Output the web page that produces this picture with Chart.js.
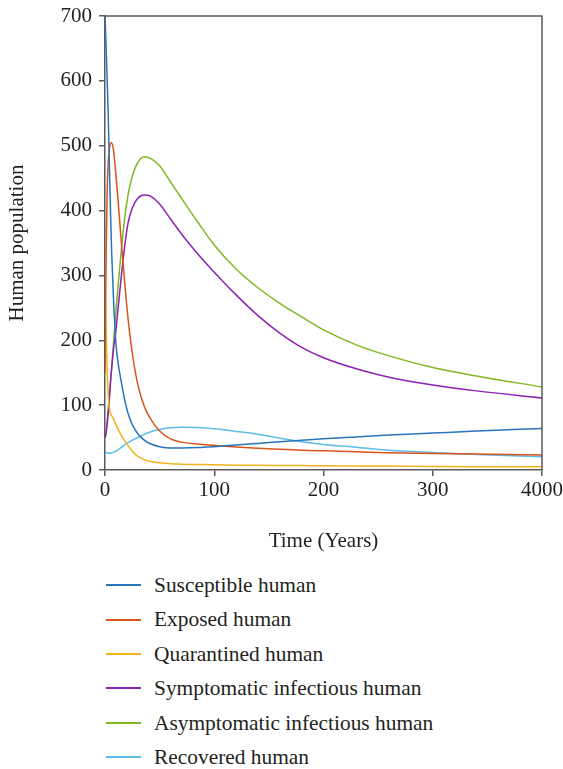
<!DOCTYPE html>
<html>
<head>
<meta charset="utf-8">
<title>Human population</title>
<script src="https://cdn.jsdelivr.net/npm/chart.js@4.4.1/dist/chart.umd.min.js"></script>
<style>
  html, body { margin: 0; padding: 0; background: #fff; }
  #wrap { position: relative; width: 563px; height: 769px; }
  #chart { position: absolute; left: 0; top: 0; }
  #legend {
    position: absolute; left: 106px; top: 568px; margin: 0; padding: 0; list-style: none;
    font-family: "Liberation Serif", "DejaVu Serif", serif; font-size: 21.4px; color: #231f20;
  }
  #legend li { height: 34.4px; line-height: 34.4px; display: flex; align-items: center; }
  #legend .swatch { width: 35px; height: 2px; margin-right: 13px; }
</style>
</head>
<body>
<div id="wrap">
  <canvas id="chart" width="563" height="565"></canvas>
  <ul id="legend"></ul>
</div>
<script>
  // Time points (x axis).
  const times = [0, 1, 2, 3, 4, 5, 6, 8, 10, 12, 15, 18, 21, 25, 30, 36, 42, 50, 60, 70,
    85, 100, 120, 140, 160, 180, 200, 230, 260, 300, 340, 400];

  const susceptible = [700, 655, 600, 545, 470, 400, 340, 255, 195, 165, 135, 108, 88, 70, 56, 46, 40, 36, 34, 34,
    34.5, 36, 38.5, 41, 43.5, 46, 48, 51, 54, 57, 60, 64];
  const exposed = [150, 330, 430, 475, 495, 503, 505, 490, 455, 415, 350, 290, 235, 180, 132, 98, 78, 60, 48, 43,
    40, 38, 35.5, 33.5, 32, 30.5, 29.5, 28, 26.5, 25.5, 24.5, 23];
  const quarantined = [300, 220, 150, 115, 95, 88, 84, 78, 70, 63, 53, 45, 38, 29, 21, 16, 13, 11, 9.5, 9,
    8.5, 8, 7.5, 7.2, 7, 6.8, 6.5, 6.2, 6, 5.5, 5.2, 5];
  const symptomatic = [50, 58, 72, 88, 110, 135, 155, 190, 215, 250, 300, 345, 380, 404, 419, 424, 422, 410, 387, 364,
    333, 305, 270, 238, 211, 189, 173, 156, 143, 131, 122, 111];
  const asymptomatic = [50, 55, 75, 95, 115, 135, 155, 200, 245, 285, 340, 388, 423, 453, 474, 483, 480, 469, 444, 419,
    382, 347, 310, 281, 257, 236, 216, 193, 176, 158, 145, 128];
  const recovered = [28, 27, 26.5, 26, 26, 26, 26.5, 27.5, 29, 31, 35, 39, 42, 46, 50, 55, 59, 62.5, 65, 66,
    65.5, 63.5, 59.5, 55, 49, 43.5, 39.5, 35, 30.5, 27, 24, 20.5];

  const seriesNames = ['Susceptible human', 'Exposed human', 'Quarantined human',
    'Symptomatic infectious human', 'Asymptomatic infectious human', 'Recovered human'];
  const seriesValues = [susceptible, exposed, quarantined, symptomatic, asymptomatic, recovered];
  const seriesColors = ['#2a74bd', '#d9541c', '#f0b31c', '#8b22b3', '#80b722', '#5cbde9'];

  // x tick labels as printed in the original (last one reads 4000).
  const xTickLabels = { 0: '0', 100: '100', 200: '200', 300: '300', 400: '4000' };

  const serif = '"Liberation Serif", "DejaVu Serif", serif';
  const ink = '#231f20';
  const axisColor = '#5a5a5a';

  const datasets = seriesNames.map(function (name, i) {
    return {
      label: name,
      data: times.map(function (t, j) { return { x: t, y: seriesValues[i][j] }; }),
      borderColor: seriesColors[i],
      backgroundColor: seriesColors[i],
      borderWidth: 1.5,
      pointRadius: 0,
      cubicInterpolationMode: 'monotone',
      fill: false,
    };
  });

  // Top and right edges of the plot box.
  const frame = {
    id: 'frame',
    afterDatasetsDraw(chart) {
      const ctx = chart.ctx;
      const a = chart.chartArea;
      ctx.save();
      ctx.strokeStyle = axisColor;
      ctx.lineWidth = 1.5;
      ctx.beginPath();
      ctx.moveTo(a.left, a.top);
      ctx.lineTo(a.right, a.top);
      ctx.lineTo(a.right, a.bottom);
      ctx.stroke();
      ctx.restore();
    },
  };

  new Chart(document.getElementById('chart'), {
    type: 'line',
    data: { datasets: datasets },
    plugins: [frame],
    options: {
      responsive: false,
      animation: false,
      layout: { padding: { top: 16, right: 21, bottom: 0, left: 0 } },
      plugins: { legend: { display: false }, tooltip: { enabled: false } },
      scales: {
        x: {
          type: 'linear',
          min: 0,
          max: 400,
          afterFit: function (scale) {
            scale.height = 95;
            scale.paddingLeft = 0;
            scale.paddingRight = 0;
          },
          border: { display: true, color: axisColor, width: 1.5 },
          grid: { drawOnChartArea: false, drawTicks: true, tickLength: 6, color: axisColor, lineWidth: 1.5 },
          ticks: {
            stepSize: 100,
            padding: 2,
            maxRotation: 0,
            color: ink,
            font: { family: serif, size: 21 },
            callback: function (v) { return xTickLabels[v] !== undefined ? xTickLabels[v] : ''; },
          },
          title: {
            display: true,
            text: 'Time (Years)',
            color: ink,
            font: { family: serif, size: 21 },
            padding: { top: 0, bottom: 11 },
          },
        },
        y: {
          min: 0,
          max: 700,
          afterFit: function (scale) {
            scale.width = 105;
            scale.paddingTop = 0;
            scale.paddingBottom = 0;
          },
          border: { display: true, color: axisColor, width: 1.5 },
          grid: { drawOnChartArea: false, drawTicks: true, tickLength: 6, color: axisColor, lineWidth: 1.5 },
          ticks: {
            stepSize: 100,
            padding: 7,
            color: ink,
            font: { family: serif, size: 21 },
          },
          title: {
            display: true,
            text: 'Human population',
            color: ink,
            font: { family: serif, size: 21 },
            padding: { top: 5, bottom: 0 },
          },
        },
      },
    },
  });

  // Vertical legend under the plot.
  const legend = document.getElementById('legend');
  seriesNames.forEach(function (name, i) {
    const li = document.createElement('li');
    const sw = document.createElement('span');
    sw.className = 'swatch';
    sw.style.background = seriesColors[i];
    li.appendChild(sw);
    li.appendChild(document.createTextNode(name));
    legend.appendChild(li);
  });
</script>
</body>
</html>
